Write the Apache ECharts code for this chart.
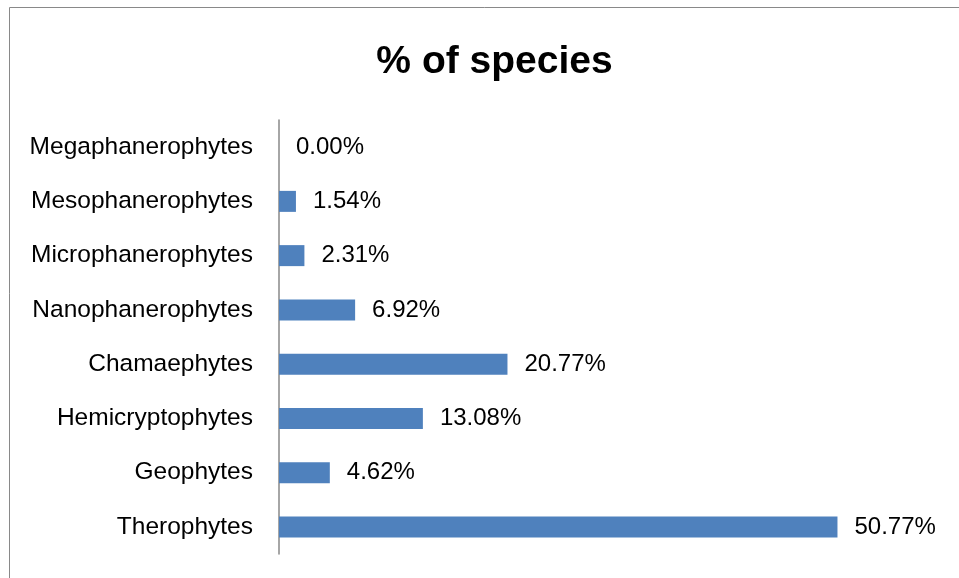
<!DOCTYPE html>
<html><head><meta charset="utf-8">
<script src="https://cdn.jsdelivr.net/npm/echarts@6/dist/echarts.min.js"></script>
<style>html,body{margin:0;padding:0;background:#fff}#c{width:959px;height:578px}</style>
</head><body><div id="c"></div>
<script>
const categories = ["Therophytes","Geophytes","Hemicryptophytes","Chamaephytes","Nanophanerophytes","Microphanerophytes","Mesophanerophytes","Megaphanerophytes"];
const values = [50.77, 4.62, 13.08, 20.77, 6.92, 2.31, 1.54, 0.00];
const titleText = "% of species";
const chart = echarts.init(document.getElementById('c'));
chart.setOption({
  animation:false,
  backgroundColor:'#fff',
  title:{text:titleText,left:489.5,top:38,textAlign:'center',textStyle:{fontFamily:'Liberation Sans',fontSize:39,fontWeight:'bold',color:'#000'}},
  graphic:[{type:'rect',shape:{x:9.5,y:7.5,width:1000,height:1000},style:{fill:'none',stroke:'#898989',lineWidth:1}}],
  grid:{left:279,top:120,width:660,height:434},
  xAxis:{type:'value',min:0,max:60,show:false},
  yAxis:{type:'category',data:categories,
    axisLine:{lineStyle:{color:'#888',width:1.5}},axisTick:{show:false},
    axisLabel:{color:'#000',fontFamily:'Liberation Sans',fontSize:24.5,margin:26}},
  series:[{type:'bar',data:values,barWidth:21,itemStyle:{color:'#4f81bd'},
    label:{show:true,position:'right',distance:17,color:'#000',fontFamily:'Liberation Sans',fontSize:24,
      formatter:p=>p.value.toFixed(2)+'%'}}]
});
</script></body></html>
